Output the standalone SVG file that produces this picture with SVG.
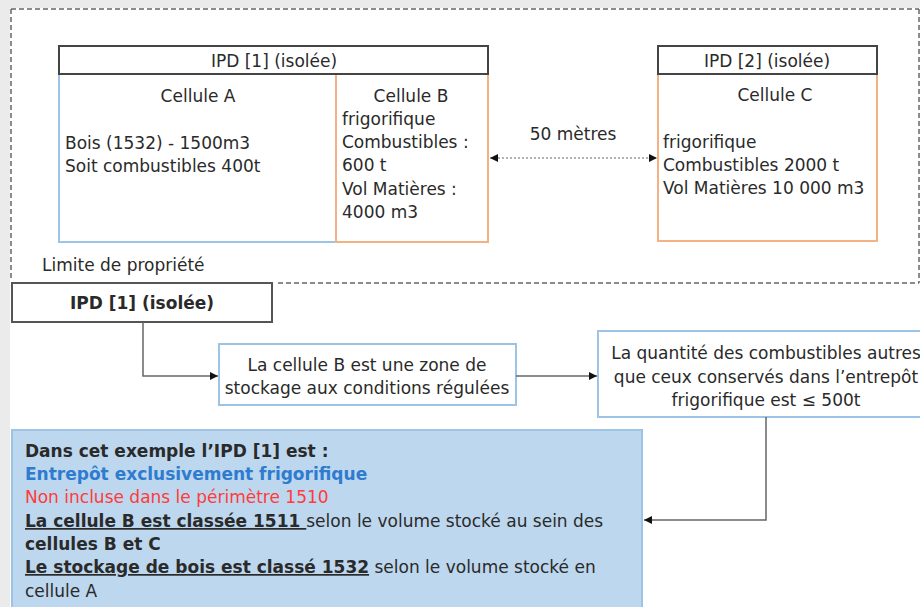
<svg xmlns="http://www.w3.org/2000/svg" width="920" height="607" viewBox="0 0 920 607">
<defs>
<style>
text{font-family:"DejaVu Sans","Liberation Sans",sans-serif;font-size:17px;fill:#2a2a2a}
.c{text-anchor:middle}
.b{font-weight:bold}
.hdr{fill:#fff;stroke:#444;stroke-width:2}
.blue{fill:#fff;stroke:#9dc3e6;stroke-width:2}
.orng{fill:#fff;stroke:#f4b183;stroke-width:2}
.dash{fill:none;stroke:#666;stroke-width:1.5;stroke-dasharray:5 3}
.conn{fill:none;stroke:#666;stroke-width:1.5}
</style>
<marker id="ah" viewBox="0 0 10 10" refX="10" refY="5" markerWidth="8" markerHeight="8" markerUnits="userSpaceOnUse" orient="auto-start-reverse">
<path d="M0,0 L10,5 L0,10 z" fill="#111"/>
</marker>
</defs>
<rect x="0" y="0" width="920" height="607" fill="#ebebeb"/>
<rect x="10" y="8" width="910" height="599" fill="#fff"/>
<path class="dash" d="M278,283 H919 M919,9 V283 M11,9 H919 M11,9 V280"/>
<g id="ipd1-top">
<rect class="blue" x="59" y="74" width="277" height="168"/>
<rect class="orng" x="336" y="74" width="152" height="168"/>
<rect class="hdr" x="59" y="46" width="429" height="28"/>
<text class="c" x="274" y="67">IPD [1] (isolée)</text>
<text class="c" x="198" y="102">Cellule A</text>
<text x="65" y="149">Bois (1532) - 1500m3</text>
<text x="65" y="172">Soit combustibles 400t</text>
<text class="c" x="411" y="102">Cellule B</text>
<text x="342" y="125">frigorifique</text>
<text x="342" y="148">Combustibles :</text>
<text x="342" y="171">600 t</text>
<text x="342" y="195">Vol Matières :</text>
<text x="342" y="218">4000 m3</text>
</g>
<g id="ipd2-top">
<rect class="orng" x="658" y="74" width="219" height="167"/>
<rect class="hdr" x="658" y="46" width="219" height="28"/>
<text class="c" x="767" y="67">IPD [2] (isolée)</text>
<text class="c" x="775" y="101">Cellule C</text>
<text x="663" y="148">frigorifique</text>
<text x="663" y="171">Combustibles 2000  t</text>
<text x="663" y="194">Vol Matières 10 000  m3</text>
</g>
<g id="limite">
<text x="42" y="271">Limite de propriété</text>
</g>
<g id="ipd1-box">
<rect x="12" y="283" width="260" height="39" fill="#fff" stroke="#555" stroke-width="2"/>
<text class="c b" x="142" y="309">IPD [1] (isolée)</text>
</g>
<g id="zone-b">
<rect class="blue" x="219" y="344" width="297" height="61"/>
<text class="c" x="367" y="371">La cellule B est une zone de</text>
<text class="c" x="367" y="394">stockage aux conditions régulées</text>
</g>
<g id="quantite">
<rect class="blue" x="598" y="331" width="340" height="86"/>
<text class="c" x="766" y="359">La quantité des combustibles autres</text>
<text class="c" x="766" y="383">que ceux conservés dans l’entrepôt</text>
<text class="c" x="766" y="406">frigorifique est ≤ 500t</text>
</g>
<g id="conclusion">
<rect x="12" y="430" width="630" height="190" fill="#bdd7ee" stroke="#9dc3e6" stroke-width="2"/>
<text class="b" x="25" y="457">Dans cet exemple l’IPD [1] est :</text>
<text class="b" x="25" y="480" style="fill:#2e7bcf">Entrepôt exclusivement frigorifique</text>
<text x="25" y="503" style="fill:#ff3b3b">Non incluse dans le périmètre 1510</text>
<text x="25" y="527"><tspan class="b" text-decoration="underline">La cellule  B est classée 1511 </tspan>selon le volume stocké au sein des</text>
<text class="b" x="25" y="550">cellules  B et C</text>
<text x="25" y="573"><tspan class="b" text-decoration="underline">Le stockage de bois est classé 1532</tspan> selon le volume stocké en</text>
<text x="25" y="597">cellule A</text>
</g>
<g id="connectors">
<path d="M490,158 H657" fill="none" stroke="#666" stroke-width="1.2" stroke-dasharray="2 2" marker-start="url(#ah)" marker-end="url(#ah)"/>
<text class="c" x="573" y="140">50 mètres</text>
<path class="conn" d="M143,322 V376 H218" marker-end="url(#ah)"/>
<path class="conn" d="M516,376 H597" marker-end="url(#ah)"/>
<path class="conn" d="M766,417 V520 H644" marker-end="url(#ah)"/>
</g>
</svg>
